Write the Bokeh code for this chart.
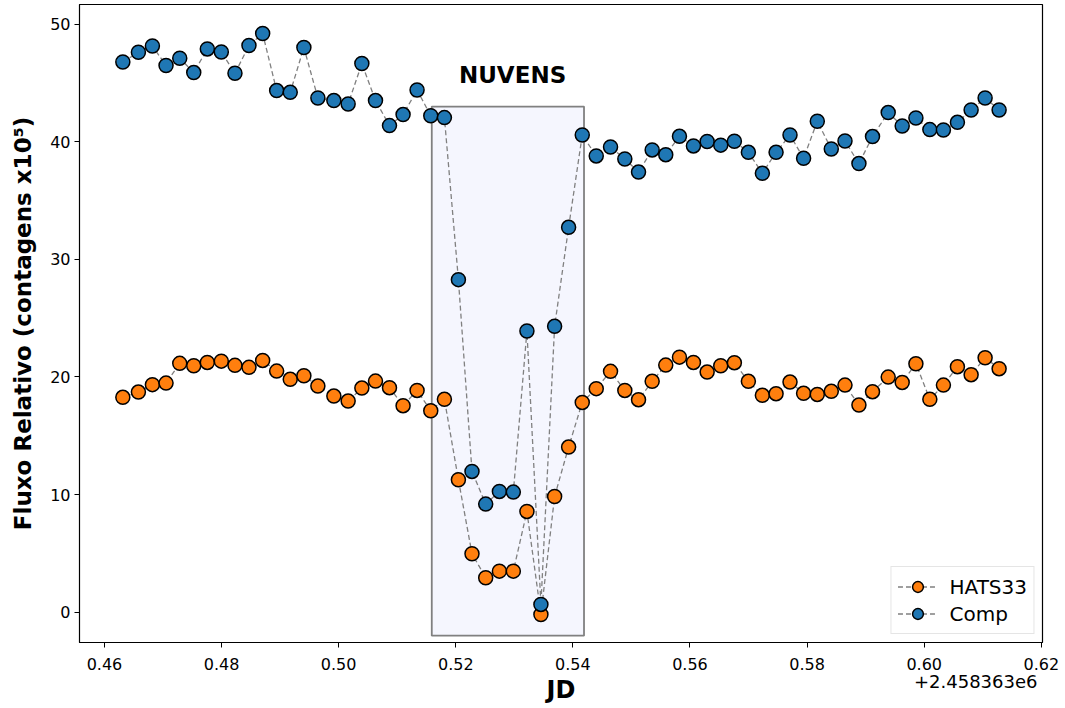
from bokeh.plotting import figure
from bokeh.models import Range1d, FixedTicker, Legend, LegendItem, LinearAxis
from bokeh.embed import file_html
from bokeh.resources import INLINE

# ---- data (JD - 2458363) ----
jd = [0.46314, 0.46580, 0.46819, 0.47052, 0.47286, 0.47525, 0.47757, 0.47996,
      0.48229, 0.48468, 0.48702, 0.48941, 0.49173, 0.49406, 0.49645, 0.49918,
      0.50162, 0.50396, 0.50629, 0.50868, 0.51100, 0.51339, 0.51573, 0.51806,
      0.52045, 0.52277, 0.52511, 0.52745, 0.52983, 0.53215, 0.53454, 0.53688,
      0.53927, 0.54160, 0.54399, 0.54643, 0.54887, 0.55121, 0.55354, 0.55586,
      0.55820, 0.56059, 0.56293, 0.56525, 0.56758, 0.56997, 0.57236, 0.57470,
      0.57708, 0.57940, 0.58174, 0.58413, 0.58647, 0.58885, 0.59117, 0.59385,
      0.59624, 0.59858, 0.60096, 0.60328, 0.60567, 0.60801, 0.61040, 0.61279]

hats33 = [18.27, 18.72, 19.35, 19.48, 21.16, 20.96, 21.24, 21.35,
          20.99, 20.82, 21.41, 20.50, 19.80, 20.11, 19.23, 18.38,
          17.95, 19.06, 19.65, 19.09, 17.56, 18.86, 17.13, 18.10,
          11.26, 4.97, 2.93, 3.49, 3.49, 8.57, -0.20, 9.84,
          14.04, 17.84, 19.01, 20.48, 18.86, 18.07, 19.63, 21.01,
          21.69, 21.24, 20.42, 20.96, 21.22, 19.63, 18.44, 18.58,
          19.57, 18.61, 18.52, 18.78, 19.31, 17.61, 18.75, 19.99,
          19.54, 21.13, 18.10, 19.31, 20.88, 20.20, 21.64, 20.71]

comp = [46.79, 47.62, 48.15, 46.49, 47.11, 45.89, 47.90, 47.64,
        45.83, 48.19, 49.21, 44.36, 44.21, 48.02, 43.73, 43.51,
        43.22, 46.66, 43.51, 41.38, 42.32, 44.41, 42.22, 42.06,
        28.28, 11.97, 9.19, 10.27, 10.21, 23.91, 0.66, 24.31,
        32.73, 40.58, 38.80, 39.56, 38.54, 37.43, 39.31, 38.91,
        40.47, 39.65, 40.03, 39.72, 40.05, 39.11, 37.32, 39.11,
        40.58, 38.60, 41.75, 39.39, 40.07, 38.15, 40.45, 42.49,
        41.35, 42.03, 41.04, 41.01, 41.66, 42.71, 43.73, 42.71]

cloud_box = dict(left=0.5159, right=0.5419, bottom=-2.0, top=43.0)
cloud_label = "NUVENS"
cloud_label_pos = (0.5297, 45.65)

xticks = [0.46, 0.48, 0.50, 0.52, 0.54, 0.56, 0.58, 0.60, 0.62]
xtick_labels = ["0.46", "0.48", "0.50", "0.52", "0.54", "0.56", "0.58", "0.60", "0.62"]
yticks = [0, 10, 20, 30, 40, 50]
offset_text = "+2.458363e6"
offset_pos = 0.6088

FONT = "DejaVu Sans"

p = figure(width=1065, height=708, output_backend="svg", toolbar_location=None,
           x_range=Range1d(0.45574, 0.6202), y_range=Range1d(-2.58, 51.68),
           min_border_left=79, min_border_right=23, min_border_top=4,
           min_border_bottom=66)

p.background_fill_color = "white"
p.border_fill_color = "white"
p.outline_line_color = "black"
p.outline_line_width = 1.2
p.xgrid.visible = False
p.ygrid.visible = False

# cloud box
p.quad(left=[cloud_box["left"]], right=[cloud_box["right"]],
       bottom=[cloud_box["bottom"]], top=[cloud_box["top"]],
       fill_color="#f5f6fe", line_color="#808080", line_width=1.8)

p.text(x=[cloud_label_pos[0]], y=[cloud_label_pos[1]], text=[cloud_label],
       text_align="center", text_baseline="middle", text_font_size="23px",
       text_font_style="bold", text_font={"value": FONT},
       text_color="black")

# series
l1 = p.line(jd, hats33, line_color="#808080", line_dash="5 3", line_width=1.3)
s1 = p.scatter(jd, hats33, size=14, fill_color="#ff7f0e", line_color="black", line_width=1.5)
l2 = p.line(jd, comp, line_color="#808080", line_dash="5 3", line_width=1.3)
s2 = p.scatter(jd, comp, size=14, fill_color="#1f77b4", line_color="black", line_width=1.5)

legend = Legend(items=[LegendItem(label="HATS33", renderers=[l1, s1]),
                       LegendItem(label="Comp", renderers=[l2, s2])],
                location="bottom_right")
legend.label_text_font = FONT
legend.label_text_font_size = "20px"
legend.label_text_color = "black"
legend.border_line_color = "#cccccc"
legend.border_line_width = 1
legend.background_fill_alpha = 0.85
legend.glyph_width = 40
legend.glyph_height = 27
legend.label_height = 27
legend.label_standoff = 12
legend.spacing = 0
legend.padding = 6
legend.margin = 8
p.add_layout(legend)

# axes
p.xaxis.ticker = FixedTicker(ticks=xticks)
p.xaxis.major_label_overrides = {t: s for t, s in zip(xticks, xtick_labels)}
p.yaxis.ticker = FixedTicker(ticks=yticks)
for ax in (p.xaxis, p.yaxis):
    ax.minor_tick_line_color = None
    ax.major_tick_in = 0
    ax.major_tick_out = 5
    ax.major_tick_line_color = "black"
    ax.axis_line_color = "black"
    ax.major_label_text_font = FONT
    ax.major_label_text_font_size = "16px"
    ax.major_label_text_color = "black"
    ax.axis_label_text_font = FONT
    ax.axis_label_text_font_style = "bold"
    ax.axis_label_text_color = "black"

p.xaxis.major_label_standoff = 10
p.yaxis.major_label_standoff = 4
p.yaxis.axis_label = "Fluxo Relativo (contagens x10⁵)"
p.yaxis.axis_label_text_font_size = "23px"
p.yaxis.axis_label_standoff = 11

# second (lower) x axis: carries the offset text and the "JD" label
ax2 = LinearAxis(ticker=FixedTicker(ticks=[offset_pos]),
                 major_label_overrides={offset_pos: offset_text})
ax2.axis_line_color = None
ax2.major_tick_line_color = None
ax2.minor_tick_line_color = None
ax2.major_tick_in = 0
ax2.major_tick_out = 0
ax2.major_label_standoff = 2
ax2.major_label_text_font = FONT
ax2.major_label_text_font_size = "18px"
ax2.major_label_text_color = "black"
ax2.axis_label = "JD"
ax2.axis_label_text_font = FONT
ax2.axis_label_text_font_style = "bold"
ax2.axis_label_text_font_size = "24px"
ax2.axis_label_text_color = "black"
ax2.axis_label_standoff = -15
p.add_layout(ax2, "below")

open("out.html", "w").write(file_html(p, INLINE))
